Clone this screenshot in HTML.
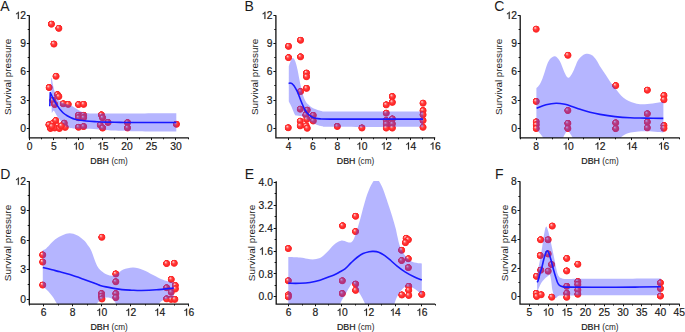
<!DOCTYPE html><html><head><meta charset="utf-8"><style>html,body{margin:0;padding:0;background:#fff;}svg{display:block;}text{font-family:"Liberation Sans",sans-serif;fill:#1a1a1a;}.tl{stroke:#1a1a1a;stroke-width:0.18px;}</style></head><body>
<svg width="685" height="332" viewBox="0 0 685 332">
<defs><radialGradient id="sp" cx="0.5" cy="0.5" r="0.5" fx="0.34" fy="0.3"><stop offset="0" stop-color="#ffe4e4"/><stop offset="0.16" stop-color="#ffa0a0"/><stop offset="0.38" stop-color="#ff4444"/><stop offset="0.72" stop-color="#ff2424"/><stop offset="0.84" stop-color="#fa2626" stop-opacity="0.95"/><stop offset="1" stop-color="#fa3030" stop-opacity="0"/></radialGradient>
<clipPath id="c0"><rect x="29.3" y="15.1" width="159.5" height="122.8"/></clipPath>
<clipPath id="c1"><rect x="275.9" y="15.1" width="159.3" height="122.8"/></clipPath>
<clipPath id="c2"><rect x="520.2" y="15.1" width="159.6" height="122.8"/></clipPath>
<clipPath id="c3"><rect x="29.3" y="181.1" width="159.7" height="123"/></clipPath>
<clipPath id="c4"><rect x="276.2" y="181.1" width="159" height="123"/></clipPath>
<clipPath id="c5"><rect x="520" y="181.1" width="159.8" height="123"/></clipPath>
</defs>
<rect width="685" height="332" fill="#fff"/>
<g clip-path="url(#c0)">
<circle cx="51.5" cy="24.2" r="3.9" fill="url(#sp)"/>
<circle cx="58.9" cy="28.4" r="3.9" fill="url(#sp)"/>
<circle cx="54" cy="44.1" r="3.9" fill="url(#sp)"/>
<circle cx="56.1" cy="76.3" r="3.9" fill="url(#sp)"/>
<circle cx="49.2" cy="87.6" r="3.9" fill="url(#sp)"/>
<circle cx="57.5" cy="94.7" r="3.9" fill="url(#sp)"/>
<circle cx="58.9" cy="96.6" r="3.9" fill="url(#sp)"/>
<circle cx="52.9" cy="100.5" r="3.9" fill="url(#sp)"/>
<circle cx="54.8" cy="104.6" r="3.9" fill="url(#sp)"/>
<circle cx="63.3" cy="103.8" r="3.9" fill="url(#sp)"/>
<circle cx="68.3" cy="104.4" r="3.9" fill="url(#sp)"/>
<circle cx="78.6" cy="104.6" r="3.9" fill="url(#sp)"/>
<circle cx="83.7" cy="104.4" r="3.9" fill="url(#sp)"/>
<circle cx="78.6" cy="115.3" r="3.9" fill="url(#sp)"/>
<circle cx="83.7" cy="115.3" r="3.9" fill="url(#sp)"/>
<circle cx="78.6" cy="117.8" r="3.9" fill="url(#sp)"/>
<circle cx="83.7" cy="117.8" r="3.9" fill="url(#sp)"/>
<circle cx="78.6" cy="127.3" r="3.9" fill="url(#sp)"/>
<circle cx="83.7" cy="126.6" r="3.9" fill="url(#sp)"/>
<circle cx="49" cy="124.8" r="3.9" fill="url(#sp)"/>
<circle cx="50.6" cy="128.5" r="3.9" fill="url(#sp)"/>
<circle cx="53.2" cy="123.2" r="3.9" fill="url(#sp)"/>
<circle cx="55.8" cy="120.6" r="3.9" fill="url(#sp)"/>
<circle cx="57.9" cy="125.9" r="3.9" fill="url(#sp)"/>
<circle cx="54.8" cy="128" r="3.9" fill="url(#sp)"/>
<circle cx="59.5" cy="128.5" r="3.9" fill="url(#sp)"/>
<circle cx="64.3" cy="123.2" r="3.9" fill="url(#sp)"/>
<circle cx="65.3" cy="127.4" r="3.9" fill="url(#sp)"/>
<circle cx="61.5" cy="126" r="3.9" fill="url(#sp)"/>
<circle cx="52" cy="126.5" r="3.9" fill="url(#sp)"/>
<circle cx="101.5" cy="114.9" r="3.9" fill="url(#sp)"/>
<circle cx="102.7" cy="117.9" r="3.9" fill="url(#sp)"/>
<circle cx="108.1" cy="122.5" r="3.9" fill="url(#sp)"/>
<circle cx="100.3" cy="125.1" r="3.9" fill="url(#sp)"/>
<circle cx="102.7" cy="128.1" r="3.9" fill="url(#sp)"/>
<circle cx="127.6" cy="122.7" r="3.9" fill="url(#sp)"/>
<circle cx="127.6" cy="128" r="3.9" fill="url(#sp)"/>
<circle cx="176.5" cy="124.3" r="3.9" fill="url(#sp)"/>
<path d="M51.10,79.00 C51.18,78.80 51.43,77.63 51.60,77.80 C51.77,77.97 51.90,78.97 52.10,80.00 C52.30,81.03 52.52,82.58 52.80,84.00 C53.08,85.42 53.40,86.93 53.80,88.50 C54.20,90.07 54.67,91.90 55.20,93.40 C55.73,94.90 56.40,96.33 57.00,97.50 C57.60,98.67 57.88,99.52 58.80,100.40 C59.72,101.28 61.13,102.12 62.50,102.80 C63.87,103.48 65.42,103.97 67.00,104.50 C68.58,105.03 70.50,105.33 72.00,106.00 C73.50,106.67 74.50,107.60 76.00,108.50 C77.50,109.40 79.17,110.62 81.00,111.40 C82.83,112.18 83.83,112.83 87.00,113.20 C90.17,113.57 92.83,113.57 100.00,113.60 C107.17,113.63 117.28,113.47 130.00,113.40 C142.72,113.33 168.58,113.23 176.30,113.20 L176.30,131.60 C169.42,131.53 145.88,131.38 135.00,131.20 C124.12,131.02 116.83,130.77 111.00,130.50 C105.17,130.23 104.00,129.88 100.00,129.60 C96.00,129.32 91.08,129.00 87.00,128.80 C82.92,128.60 78.33,128.55 75.50,128.40 C72.67,128.25 71.57,128.20 70.00,127.90 C68.43,127.60 67.40,127.45 66.10,126.60 C64.80,125.75 63.25,123.95 62.20,122.80 C61.15,121.65 60.72,120.93 59.80,119.70 C58.88,118.47 57.62,116.80 56.70,115.40 C55.78,114.00 54.88,112.05 54.30,111.30 C53.72,110.55 53.38,110.97 53.20,110.90 L51.80,113.00 C51.77,111.83 51.67,108.50 51.60,106.00 C51.53,103.50 51.45,101.00 51.40,98.00 C51.35,95.00 51.35,91.00 51.30,88.00 C51.25,85.00 51.13,81.33 51.10,80.00 Z" fill="#3c3cff" fill-opacity="0.38"/>
<path d="M49.80,106.20 C49.88,103.92 50.22,94.78 50.30,92.50 L50.30,92.50 C50.70,93.35 51.82,95.88 52.70,97.60 C53.58,99.32 54.72,101.30 55.60,102.80 C56.48,104.30 57.18,105.40 58.00,106.60 C58.82,107.80 59.62,108.93 60.50,110.00 C61.38,111.07 62.18,112.05 63.30,113.00 C64.42,113.95 65.92,114.92 67.20,115.70 C68.48,116.48 69.72,117.12 71.00,117.70 C72.28,118.28 73.40,118.77 74.90,119.20 C76.40,119.63 78.15,120.00 80.00,120.30 C81.85,120.60 83.50,120.78 86.00,121.00 C88.50,121.22 91.83,121.42 95.00,121.60 C98.17,121.78 100.83,121.97 105.00,122.10 C109.17,122.23 115.00,122.33 120.00,122.40 C125.00,122.47 125.62,122.48 135.00,122.50 C144.38,122.52 169.42,122.50 176.30,122.50" fill="none" stroke="#1818ff" stroke-width="1.6" stroke-linejoin="round"/>
</g>
<path d="M29.3,15.3 V137.9 H188.8" fill="none" stroke="#111" stroke-width="1.3"/>
<path d="M29.5,137.9 v2.2 M53.5,137.9 v2.2 M78.5,137.9 v2.2 M102.5,137.9 v2.2 M127.5,137.9 v2.2 M151.5,137.9 v2.2 M175.5,137.9 v2.2 M41.5,137.9 v1.4 M66.5,137.9 v1.4 M90.5,137.9 v1.4 M114.5,137.9 v1.4 M139.5,137.9 v1.4 M163.5,137.9 v1.4 M188.5,137.9 v1.4 M29.3,128.5 h-2.5 M29.3,100.5 h-2.5 M29.3,71.5 h-2.5 M29.3,43.5 h-2.5 M29.3,15.5 h-2.5 M29.3,114.5 h-1.6 M29.3,85.5 h-1.6 M29.3,57.5 h-1.6 M29.3,29.5 h-1.6" stroke="#111" stroke-width="1.0" fill="none"/>
<text x="26.64" y="149.5" font-size="10.3" class="tl">0</text>
<text x="51.04" y="149.5" font-size="10.3" class="tl">5</text>
<path transform="translate(72.57,149.5) scale(0.005029,-0.005029)" d="M843 0H663V1130Q598 1068 492 1006Q387 945 303 916V1086Q454 1156 567 1256Q680 1356 727 1450H843Z" fill="#1a1a1a" stroke="#1a1a1a" stroke-width="35.8"/><text x="78.3" y="149.5" font-size="10.3" class="tl">0</text>
<path transform="translate(96.97,149.5) scale(0.005029,-0.005029)" d="M843 0H663V1130Q598 1068 492 1006Q387 945 303 916V1086Q454 1156 567 1256Q680 1356 727 1450H843Z" fill="#1a1a1a" stroke="#1a1a1a" stroke-width="35.8"/><text x="102.7" y="149.5" font-size="10.3" class="tl">5</text>
<text x="121.37" y="149.5" font-size="10.3" class="tl">20</text>
<text x="145.77" y="149.5" font-size="10.3" class="tl">25</text>
<text x="170.17" y="149.5" font-size="10.3" class="tl">30</text>
<text x="20.27" y="131.9" font-size="10.3" class="tl">0</text>
<text x="20.27" y="103.67" font-size="10.3" class="tl">3</text>
<text x="20.27" y="75.44" font-size="10.3" class="tl">6</text>
<text x="20.27" y="47.21" font-size="10.3" class="tl">9</text>
<path transform="translate(14.54,18.98) scale(0.005029,-0.005029)" d="M843 0H663V1130Q598 1068 492 1006Q387 945 303 916V1086Q454 1156 567 1256Q680 1356 727 1450H843Z" fill="#1a1a1a" stroke="#1a1a1a" stroke-width="35.8"/><text x="20.27" y="18.98" font-size="10.3" class="tl">2</text>
<text x="109.05" y="163.7" font-size="8.8" text-anchor="middle"><tspan stroke="#1a1a1a" stroke-width="0.22">DBH</tspan> <tspan font-size="8.2">(cm)</tspan></text>
<text transform="translate(11.3,76.9) rotate(-90)" font-size="9.9" text-anchor="middle">Survival pressure</text>
<text x="0.3" y="10.8" font-size="14">A</text>
<g clip-path="url(#c1)">
<circle cx="288.6" cy="46.4" r="3.9" fill="url(#sp)"/>
<circle cx="300.6" cy="40.3" r="3.9" fill="url(#sp)"/>
<circle cx="288.6" cy="57.7" r="3.9" fill="url(#sp)"/>
<circle cx="300.6" cy="56.9" r="3.9" fill="url(#sp)"/>
<circle cx="306.6" cy="73.1" r="3.9" fill="url(#sp)"/>
<circle cx="306.6" cy="76.8" r="3.9" fill="url(#sp)"/>
<circle cx="306.6" cy="88.4" r="3.9" fill="url(#sp)"/>
<circle cx="300.6" cy="91.6" r="3.9" fill="url(#sp)"/>
<circle cx="300.3" cy="109.2" r="3.9" fill="url(#sp)"/>
<circle cx="307.3" cy="110.2" r="3.9" fill="url(#sp)"/>
<circle cx="305.9" cy="115.1" r="3.9" fill="url(#sp)"/>
<circle cx="313.3" cy="115.4" r="3.9" fill="url(#sp)"/>
<circle cx="313.3" cy="121" r="3.9" fill="url(#sp)"/>
<circle cx="307" cy="119.4" r="3.9" fill="url(#sp)"/>
<circle cx="300.3" cy="121.2" r="3.9" fill="url(#sp)"/>
<circle cx="300.3" cy="125.9" r="3.9" fill="url(#sp)"/>
<circle cx="306.2" cy="125.9" r="3.9" fill="url(#sp)"/>
<circle cx="307.3" cy="128.3" r="3.9" fill="url(#sp)"/>
<circle cx="288.3" cy="127.8" r="3.9" fill="url(#sp)"/>
<circle cx="337.4" cy="126.5" r="3.9" fill="url(#sp)"/>
<circle cx="362" cy="128" r="3.9" fill="url(#sp)"/>
<circle cx="386.3" cy="104.9" r="3.9" fill="url(#sp)"/>
<circle cx="386.3" cy="113.2" r="3.9" fill="url(#sp)"/>
<circle cx="386.3" cy="120.6" r="3.9" fill="url(#sp)"/>
<circle cx="386.3" cy="124" r="3.9" fill="url(#sp)"/>
<circle cx="386.3" cy="128.1" r="3.9" fill="url(#sp)"/>
<circle cx="392.4" cy="96.6" r="3.9" fill="url(#sp)"/>
<circle cx="392.4" cy="102.4" r="3.9" fill="url(#sp)"/>
<circle cx="392.4" cy="119" r="3.9" fill="url(#sp)"/>
<circle cx="392.4" cy="124" r="3.9" fill="url(#sp)"/>
<circle cx="392.4" cy="128.1" r="3.9" fill="url(#sp)"/>
<circle cx="423.1" cy="103.2" r="3.9" fill="url(#sp)"/>
<circle cx="423.1" cy="110.7" r="3.9" fill="url(#sp)"/>
<circle cx="423.1" cy="114.8" r="3.9" fill="url(#sp)"/>
<circle cx="423.1" cy="120.6" r="3.9" fill="url(#sp)"/>
<circle cx="423.1" cy="127.3" r="3.9" fill="url(#sp)"/>
<path d="M288.80,66.30 C289.08,65.50 289.80,62.88 290.50,61.50 C291.20,60.12 292.17,57.92 293.00,58.00 C293.83,58.08 294.73,60.00 295.50,62.00 C296.27,64.00 297.02,67.42 297.60,70.00 C298.18,72.58 298.55,75.17 299.00,77.50 C299.45,79.83 299.83,81.83 300.30,84.00 C300.77,86.17 301.30,88.50 301.80,90.50 C302.30,92.50 302.65,94.17 303.30,96.00 C303.95,97.83 304.87,100.07 305.70,101.50 C306.53,102.93 307.40,103.70 308.30,104.60 C309.20,105.50 309.73,106.07 311.10,106.90 C312.47,107.73 314.85,108.93 316.50,109.60 C318.15,110.27 318.75,110.58 321.00,110.90 C323.25,111.22 320.17,111.40 330.00,111.50 C339.83,111.60 364.48,111.50 380.00,111.50 C395.52,111.50 415.92,111.50 423.10,111.50 L423.10,126.80 C415.92,126.82 395.52,126.90 380.00,126.90 C364.48,126.90 339.83,126.97 330.00,126.80 C320.17,126.63 323.33,126.30 321.00,125.90 C318.67,125.50 317.65,125.03 316.00,124.40 C314.35,123.77 313.18,123.35 311.10,122.10 C309.02,120.85 305.85,117.98 303.50,116.90 C301.15,115.82 298.45,116.00 297.00,115.60 C295.55,115.20 295.70,115.95 294.80,114.50 C293.90,113.05 292.60,109.07 291.60,106.90 C290.60,104.73 289.27,102.40 288.80,101.50 Z" fill="#3c3cff" fill-opacity="0.38"/>
<path d="M288.60,83.50 C288.83,83.42 289.43,82.98 290.00,83.00 C290.57,83.02 291.33,83.13 292.00,83.60 C292.67,84.07 293.40,85.00 294.00,85.80 C294.60,86.60 295.08,87.50 295.60,88.40 C296.12,89.30 296.60,90.15 297.10,91.20 C297.60,92.25 297.98,93.15 298.60,94.70 C299.22,96.25 300.07,98.65 300.80,100.50 C301.53,102.35 302.30,104.22 303.00,105.80 C303.70,107.38 304.28,108.75 305.00,110.00 C305.72,111.25 306.48,112.37 307.30,113.30 C308.12,114.23 309.03,114.95 309.90,115.60 C310.77,116.25 311.57,116.75 312.50,117.20 C313.43,117.65 314.25,118.02 315.50,118.30 C316.75,118.58 317.58,118.77 320.00,118.90 C322.42,119.03 320.00,119.07 330.00,119.10 C340.00,119.13 364.48,119.10 380.00,119.10 C395.52,119.10 415.92,119.10 423.10,119.10" fill="none" stroke="#1818ff" stroke-width="1.6" stroke-linejoin="round"/>
</g>
<path d="M275.9,15.3 V137.9 H435.2" fill="none" stroke="#111" stroke-width="1.3"/>
<path d="M288.5,137.9 v2.2 M312.5,137.9 v2.2 M337.5,137.9 v2.2 M361.5,137.9 v2.2 M386.5,137.9 v2.2 M410.5,137.9 v2.2 M434.5,137.9 v2.2 M300.5,137.9 v1.4 M325.5,137.9 v1.4 M349.5,137.9 v1.4 M373.5,137.9 v1.4 M398.5,137.9 v1.4 M422.5,137.9 v1.4 M275.9,128.5 h-2.5 M275.9,100.5 h-2.5 M275.9,71.5 h-2.5 M275.9,43.5 h-2.5 M275.9,15.5 h-2.5 M275.9,114.5 h-1.6 M275.9,85.5 h-1.6 M275.9,57.5 h-1.6 M275.9,29.5 h-1.6" stroke="#111" stroke-width="1.0" fill="none"/>
<text x="285.64" y="149.5" font-size="10.3" class="tl">4</text>
<text x="310.04" y="149.5" font-size="10.3" class="tl">6</text>
<text x="334.44" y="149.5" font-size="10.3" class="tl">8</text>
<path transform="translate(355.97,149.5) scale(0.005029,-0.005029)" d="M843 0H663V1130Q598 1068 492 1006Q387 945 303 916V1086Q454 1156 567 1256Q680 1356 727 1450H843Z" fill="#1a1a1a" stroke="#1a1a1a" stroke-width="35.8"/><text x="361.7" y="149.5" font-size="10.3" class="tl">0</text>
<path transform="translate(380.37,149.5) scale(0.005029,-0.005029)" d="M843 0H663V1130Q598 1068 492 1006Q387 945 303 916V1086Q454 1156 567 1256Q680 1356 727 1450H843Z" fill="#1a1a1a" stroke="#1a1a1a" stroke-width="35.8"/><text x="386.1" y="149.5" font-size="10.3" class="tl">2</text>
<path transform="translate(404.77,149.5) scale(0.005029,-0.005029)" d="M843 0H663V1130Q598 1068 492 1006Q387 945 303 916V1086Q454 1156 567 1256Q680 1356 727 1450H843Z" fill="#1a1a1a" stroke="#1a1a1a" stroke-width="35.8"/><text x="410.5" y="149.5" font-size="10.3" class="tl">4</text>
<path transform="translate(429.17,149.5) scale(0.005029,-0.005029)" d="M843 0H663V1130Q598 1068 492 1006Q387 945 303 916V1086Q454 1156 567 1256Q680 1356 727 1450H843Z" fill="#1a1a1a" stroke="#1a1a1a" stroke-width="35.8"/><text x="434.9" y="149.5" font-size="10.3" class="tl">6</text>
<text x="266.87" y="131.9" font-size="10.3" class="tl">0</text>
<text x="266.87" y="103.67" font-size="10.3" class="tl">3</text>
<text x="266.87" y="75.44" font-size="10.3" class="tl">6</text>
<text x="266.87" y="47.21" font-size="10.3" class="tl">9</text>
<path transform="translate(261.14,18.98) scale(0.005029,-0.005029)" d="M843 0H663V1130Q598 1068 492 1006Q387 945 303 916V1086Q454 1156 567 1256Q680 1356 727 1450H843Z" fill="#1a1a1a" stroke="#1a1a1a" stroke-width="35.8"/><text x="266.87" y="18.98" font-size="10.3" class="tl">2</text>
<text x="355.55" y="163.7" font-size="8.8" text-anchor="middle"><tspan stroke="#1a1a1a" stroke-width="0.22">DBH</tspan> <tspan font-size="8.2">(cm)</tspan></text>
<text transform="translate(257.9,76.9) rotate(-90)" font-size="9.9" text-anchor="middle">Survival pressure</text>
<text x="244.6" y="10.8" font-size="14">B</text>
<g clip-path="url(#c2)">
<circle cx="536.2" cy="29.2" r="3.9" fill="url(#sp)"/>
<circle cx="568" cy="55.3" r="3.9" fill="url(#sp)"/>
<circle cx="615.8" cy="85.7" r="3.9" fill="url(#sp)"/>
<circle cx="647.4" cy="90.2" r="3.9" fill="url(#sp)"/>
<circle cx="664" cy="95.6" r="3.9" fill="url(#sp)"/>
<circle cx="664" cy="99.8" r="3.9" fill="url(#sp)"/>
<circle cx="536.3" cy="101.5" r="3.9" fill="url(#sp)"/>
<circle cx="536.3" cy="121.9" r="3.9" fill="url(#sp)"/>
<circle cx="536.3" cy="124.9" r="3.9" fill="url(#sp)"/>
<circle cx="536.3" cy="128.6" r="3.9" fill="url(#sp)"/>
<circle cx="567.9" cy="110.6" r="3.9" fill="url(#sp)"/>
<circle cx="567.9" cy="123.4" r="3.9" fill="url(#sp)"/>
<circle cx="567.9" cy="128.6" r="3.9" fill="url(#sp)"/>
<circle cx="615.8" cy="122.9" r="3.9" fill="url(#sp)"/>
<circle cx="615.8" cy="128.7" r="3.9" fill="url(#sp)"/>
<circle cx="647.4" cy="113.8" r="3.9" fill="url(#sp)"/>
<circle cx="647.4" cy="122.1" r="3.9" fill="url(#sp)"/>
<circle cx="647.4" cy="127.9" r="3.9" fill="url(#sp)"/>
<circle cx="664" cy="125.6" r="3.9" fill="url(#sp)"/>
<circle cx="664" cy="128.3" r="3.9" fill="url(#sp)"/>
<path d="M536.40,88.20 C536.75,87.83 537.82,86.87 538.50,86.00 C539.18,85.13 539.83,84.25 540.50,83.00 C541.17,81.75 541.75,80.50 542.50,78.50 C543.25,76.50 544.17,73.50 545.00,71.00 C545.83,68.50 546.58,65.58 547.50,63.50 C548.42,61.42 549.28,59.70 550.50,58.50 C551.72,57.30 553.45,56.17 554.80,56.30 C556.15,56.43 557.57,58.10 558.60,59.30 C559.63,60.50 560.25,61.87 561.00,63.50 C561.75,65.13 562.27,67.10 563.10,69.10 C563.93,71.10 565.12,74.05 566.00,75.50 C566.88,76.95 567.65,77.72 568.40,77.80 C569.15,77.88 569.75,76.95 570.50,76.00 C571.25,75.05 572.07,73.77 572.90,72.10 C573.73,70.43 574.62,68.00 575.50,66.00 C576.38,64.00 576.87,61.97 578.20,60.10 C579.53,58.23 582.00,55.87 583.50,54.80 C585.00,53.73 586.03,53.75 587.20,53.70 C588.37,53.65 589.48,54.07 590.50,54.50 C591.52,54.93 592.22,55.22 593.30,56.30 C594.38,57.38 595.75,59.12 597.00,61.00 C598.25,62.88 599.38,65.35 600.80,67.60 C602.22,69.85 603.97,72.18 605.50,74.50 C607.03,76.82 608.50,79.37 610.00,81.50 C611.50,83.63 612.98,85.33 614.50,87.30 C616.02,89.27 617.60,91.55 619.10,93.30 C620.60,95.05 621.90,96.50 623.50,97.80 C625.10,99.10 626.78,100.18 628.70,101.10 C630.62,102.02 632.75,102.77 635.00,103.30 C637.25,103.83 639.25,104.27 642.20,104.30 C645.15,104.33 649.17,103.92 652.70,103.50 C656.23,103.08 661.62,102.08 663.40,101.80 L663.40,132.40 C660.37,132.20 650.00,131.28 645.20,131.20 C640.40,131.12 637.62,131.53 634.60,131.90 C631.58,132.27 629.35,132.52 627.10,133.40 C624.85,134.28 622.37,135.93 621.10,137.20 C619.83,138.47 619.77,140.37 619.50,141.00 L574.00,141.00 C573.73,140.37 573.07,138.45 572.40,137.20 C571.73,135.95 570.75,134.52 570.00,133.50 C569.25,132.48 568.65,131.18 567.90,131.10 C567.15,131.02 566.25,131.98 565.50,133.00 C564.75,134.02 564.07,135.87 563.40,137.20 C562.73,138.53 561.82,140.37 561.50,141.00 L545.00,141.00 C544.80,140.58 544.63,139.75 543.80,138.50 C542.97,137.25 541.23,134.98 540.00,133.50 C538.77,132.02 537.00,130.25 536.40,129.60 Z" fill="#3c3cff" fill-opacity="0.38"/>
<path d="M536.60,108.30 C538.17,107.72 542.75,105.65 546.00,104.80 C549.25,103.95 552.93,103.28 556.10,103.20 C559.27,103.12 562.35,103.75 565.00,104.30 C567.65,104.85 569.47,105.67 572.00,106.50 C574.53,107.33 577.20,108.33 580.20,109.30 C583.20,110.27 586.70,111.45 590.00,112.30 C593.30,113.15 595.82,113.68 600.00,114.40 C604.18,115.12 610.08,116.03 615.10,116.60 C620.12,117.17 625.08,117.55 630.10,117.80 C635.12,118.05 639.67,118.00 645.20,118.10 C650.73,118.20 660.28,118.35 663.30,118.40" fill="none" stroke="#1818ff" stroke-width="1.6" stroke-linejoin="round"/>
</g>
<path d="M520.2,15.3 V137.9 H679.8" fill="none" stroke="#111" stroke-width="1.3"/>
<path d="M536.5,137.9 v2.2 M568.5,137.9 v2.2 M599.5,137.9 v2.2 M631.5,137.9 v2.2 M663.5,137.9 v2.2 M520.5,137.9 v1.4 M552.5,137.9 v1.4 M583.5,137.9 v1.4 M615.5,137.9 v1.4 M647.5,137.9 v1.4 M679.5,137.9 v1.4 M520.2,128.5 h-2.5 M520.2,100.5 h-2.5 M520.2,71.5 h-2.5 M520.2,43.5 h-2.5 M520.2,15.5 h-2.5 M520.2,114.5 h-1.6 M520.2,85.5 h-1.6 M520.2,57.5 h-1.6 M520.2,29.5 h-1.6" stroke="#111" stroke-width="1.0" fill="none"/>
<text x="533.34" y="149.5" font-size="10.3" class="tl">8</text>
<path transform="translate(562.27,149.5) scale(0.005029,-0.005029)" d="M843 0H663V1130Q598 1068 492 1006Q387 945 303 916V1086Q454 1156 567 1256Q680 1356 727 1450H843Z" fill="#1a1a1a" stroke="#1a1a1a" stroke-width="35.8"/><text x="568" y="149.5" font-size="10.3" class="tl">0</text>
<path transform="translate(594.07,149.5) scale(0.005029,-0.005029)" d="M843 0H663V1130Q598 1068 492 1006Q387 945 303 916V1086Q454 1156 567 1256Q680 1356 727 1450H843Z" fill="#1a1a1a" stroke="#1a1a1a" stroke-width="35.8"/><text x="599.8" y="149.5" font-size="10.3" class="tl">2</text>
<path transform="translate(625.87,149.5) scale(0.005029,-0.005029)" d="M843 0H663V1130Q598 1068 492 1006Q387 945 303 916V1086Q454 1156 567 1256Q680 1356 727 1450H843Z" fill="#1a1a1a" stroke="#1a1a1a" stroke-width="35.8"/><text x="631.6" y="149.5" font-size="10.3" class="tl">4</text>
<path transform="translate(657.67,149.5) scale(0.005029,-0.005029)" d="M843 0H663V1130Q598 1068 492 1006Q387 945 303 916V1086Q454 1156 567 1256Q680 1356 727 1450H843Z" fill="#1a1a1a" stroke="#1a1a1a" stroke-width="35.8"/><text x="663.4" y="149.5" font-size="10.3" class="tl">6</text>
<text x="511.17" y="131.9" font-size="10.3" class="tl">0</text>
<text x="511.17" y="103.67" font-size="10.3" class="tl">3</text>
<text x="511.17" y="75.44" font-size="10.3" class="tl">6</text>
<text x="511.17" y="47.21" font-size="10.3" class="tl">9</text>
<path transform="translate(505.44,18.98) scale(0.005029,-0.005029)" d="M843 0H663V1130Q598 1068 492 1006Q387 945 303 916V1086Q454 1156 567 1256Q680 1356 727 1450H843Z" fill="#1a1a1a" stroke="#1a1a1a" stroke-width="35.8"/><text x="511.17" y="18.98" font-size="10.3" class="tl">2</text>
<text x="600" y="163.7" font-size="8.8" text-anchor="middle"><tspan stroke="#1a1a1a" stroke-width="0.22">DBH</tspan> <tspan font-size="8.2">(cm)</tspan></text>
<text transform="translate(502.2,76.9) rotate(-90)" font-size="9.9" text-anchor="middle">Survival pressure</text>
<text x="494.3" y="10.8" font-size="14">C</text>
<g clip-path="url(#c3)">
<circle cx="42.8" cy="255" r="3.9" fill="url(#sp)"/>
<circle cx="42.8" cy="262.1" r="3.9" fill="url(#sp)"/>
<circle cx="42.8" cy="285.1" r="3.9" fill="url(#sp)"/>
<circle cx="101.9" cy="237.3" r="3.9" fill="url(#sp)"/>
<circle cx="101.6" cy="293.6" r="3.9" fill="url(#sp)"/>
<circle cx="101.6" cy="296.4" r="3.9" fill="url(#sp)"/>
<circle cx="102" cy="299" r="3.9" fill="url(#sp)"/>
<circle cx="115.9" cy="274" r="3.9" fill="url(#sp)"/>
<circle cx="115.9" cy="281.8" r="3.9" fill="url(#sp)"/>
<circle cx="115.9" cy="293.7" r="3.9" fill="url(#sp)"/>
<circle cx="115.9" cy="297.7" r="3.9" fill="url(#sp)"/>
<circle cx="166.7" cy="263.6" r="3.9" fill="url(#sp)"/>
<circle cx="174.3" cy="263.3" r="3.9" fill="url(#sp)"/>
<circle cx="171.3" cy="279.5" r="3.9" fill="url(#sp)"/>
<circle cx="166.7" cy="287.8" r="3.9" fill="url(#sp)"/>
<circle cx="171.3" cy="292.3" r="3.9" fill="url(#sp)"/>
<circle cx="175.4" cy="285.6" r="3.9" fill="url(#sp)"/>
<circle cx="175.4" cy="289" r="3.9" fill="url(#sp)"/>
<circle cx="166.7" cy="298.9" r="3.9" fill="url(#sp)"/>
<circle cx="171.3" cy="299.4" r="3.9" fill="url(#sp)"/>
<circle cx="174.9" cy="299.4" r="3.9" fill="url(#sp)"/>
<path d="M42.80,250.10 C43.27,249.90 44.52,249.70 45.60,248.90 C46.68,248.10 47.68,246.90 49.30,245.30 C50.92,243.70 53.10,240.98 55.30,239.30 C57.50,237.62 60.10,236.22 62.50,235.20 C64.90,234.18 67.28,233.20 69.70,233.20 C72.12,233.20 74.58,233.98 77.00,235.20 C79.42,236.42 82.37,238.78 84.20,240.50 C86.03,242.22 86.80,243.75 88.00,245.50 C89.20,247.25 89.87,247.58 91.40,251.00 C92.93,254.42 95.32,262.50 97.20,266.00 C99.08,269.50 100.98,270.53 102.70,272.00 C104.42,273.47 105.90,274.17 107.50,274.80 C109.10,275.43 110.70,275.97 112.30,275.80 C113.90,275.63 115.27,274.85 117.10,273.80 C118.93,272.75 120.62,270.57 123.30,269.50 C125.98,268.43 129.90,267.33 133.20,267.40 C136.50,267.47 139.78,268.65 143.10,269.90 C146.42,271.15 149.78,273.25 153.10,274.90 C156.42,276.55 160.43,278.70 163.00,279.80 C165.57,280.90 166.70,281.08 168.50,281.50 C170.30,281.92 172.92,282.17 173.80,282.30 L173.80,297.80 C172.83,297.92 169.62,298.22 168.00,298.50 C166.38,298.78 165.35,298.92 164.10,299.50 C162.85,300.08 161.37,301.25 160.50,302.00 C159.63,302.75 159.32,303.33 158.90,304.00 C158.48,304.67 158.15,305.67 158.00,306.00 L116.50,306.00 C116.35,305.50 116.27,304.13 115.60,303.00 C114.93,301.87 113.52,300.07 112.50,299.20 C111.48,298.33 110.43,298.08 109.50,297.80 C108.57,297.52 107.82,297.47 106.90,297.50 C105.98,297.53 105.07,297.58 104.00,298.00 C102.93,298.42 101.60,299.17 100.50,300.00 C99.40,300.83 98.07,302.00 97.40,303.00 C96.73,304.00 96.65,305.50 96.50,306.00 L58.50,306.00 C58.17,305.52 57.43,304.58 56.50,303.10 C55.57,301.62 54.32,299.10 52.90,297.10 C51.48,295.10 49.68,292.92 48.00,291.10 C46.32,289.28 43.67,287.02 42.80,286.20 Z" fill="#3c3cff" fill-opacity="0.38"/>
<path d="M42.80,267.40 C44.33,267.80 49.12,269.07 52.00,269.80 C54.88,270.53 57.10,271.00 60.10,271.80 C63.10,272.60 65.98,273.32 70.00,274.60 C74.02,275.88 79.87,277.97 84.20,279.50 C88.53,281.03 93.33,282.82 96.00,283.80 C98.67,284.78 98.53,284.88 100.20,285.40 C101.87,285.92 103.98,286.45 106.00,286.90 C108.02,287.35 109.63,287.65 112.30,288.10 C114.97,288.55 118.78,289.25 122.00,289.60 C125.22,289.95 128.35,290.05 131.60,290.20 C134.85,290.35 137.37,290.57 141.50,290.50 C145.63,290.43 151.02,290.22 156.40,289.80 C161.78,289.38 170.90,288.30 173.80,288.00" fill="none" stroke="#1818ff" stroke-width="1.6" stroke-linejoin="round"/>
</g>
<path d="M29.3,181.3 V304.1 H189" fill="none" stroke="#111" stroke-width="1.3"/>
<path d="M43.5,304.1 v2.2 M72.5,304.1 v2.2 M101.5,304.1 v2.2 M130.5,304.1 v2.2 M159.5,304.1 v2.2 M188.5,304.1 v2.2 M29.5,304.1 v1.4 M58.5,304.1 v1.4 M87.5,304.1 v1.4 M116.5,304.1 v1.4 M145.5,304.1 v1.4 M174.5,304.1 v1.4 M29.3,299.5 h-2.5 M29.3,269.5 h-2.5 M29.3,240.5 h-2.5 M29.3,210.5 h-2.5 M29.3,181.5 h-2.5 M29.3,284.5 h-1.6 M29.3,255.5 h-1.6 M29.3,225.5 h-1.6 M29.3,195.5 h-1.6" stroke="#111" stroke-width="1.0" fill="none"/>
<text x="40.74" y="315.7" font-size="10.3" class="tl">6</text>
<text x="69.74" y="315.7" font-size="10.3" class="tl">8</text>
<path transform="translate(95.87,315.7) scale(0.005029,-0.005029)" d="M843 0H663V1130Q598 1068 492 1006Q387 945 303 916V1086Q454 1156 567 1256Q680 1356 727 1450H843Z" fill="#1a1a1a" stroke="#1a1a1a" stroke-width="35.8"/><text x="101.6" y="315.7" font-size="10.3" class="tl">0</text>
<path transform="translate(124.87,315.7) scale(0.005029,-0.005029)" d="M843 0H663V1130Q598 1068 492 1006Q387 945 303 916V1086Q454 1156 567 1256Q680 1356 727 1450H843Z" fill="#1a1a1a" stroke="#1a1a1a" stroke-width="35.8"/><text x="130.6" y="315.7" font-size="10.3" class="tl">2</text>
<path transform="translate(153.87,315.7) scale(0.005029,-0.005029)" d="M843 0H663V1130Q598 1068 492 1006Q387 945 303 916V1086Q454 1156 567 1256Q680 1356 727 1450H843Z" fill="#1a1a1a" stroke="#1a1a1a" stroke-width="35.8"/><text x="159.6" y="315.7" font-size="10.3" class="tl">4</text>
<path transform="translate(182.87,315.7) scale(0.005029,-0.005029)" d="M843 0H663V1130Q598 1068 492 1006Q387 945 303 916V1086Q454 1156 567 1256Q680 1356 727 1450H843Z" fill="#1a1a1a" stroke="#1a1a1a" stroke-width="35.8"/><text x="188.6" y="315.7" font-size="10.3" class="tl">6</text>
<text x="20.27" y="303" font-size="10.3" class="tl">0</text>
<text x="20.27" y="273.45" font-size="10.3" class="tl">3</text>
<text x="20.27" y="243.9" font-size="10.3" class="tl">6</text>
<text x="20.27" y="214.35" font-size="10.3" class="tl">9</text>
<path transform="translate(14.54,184.8) scale(0.005029,-0.005029)" d="M843 0H663V1130Q598 1068 492 1006Q387 945 303 916V1086Q454 1156 567 1256Q680 1356 727 1450H843Z" fill="#1a1a1a" stroke="#1a1a1a" stroke-width="35.8"/><text x="20.27" y="184.8" font-size="10.3" class="tl">2</text>
<text x="109.15" y="330" font-size="8.8" text-anchor="middle"><tspan stroke="#1a1a1a" stroke-width="0.22">DBH</tspan> <tspan font-size="8.2">(cm)</tspan></text>
<text transform="translate(11.3,243) rotate(-90)" font-size="9.9" text-anchor="middle">Survival pressure</text>
<text x="0.3" y="179.4" font-size="14">D</text>
<g clip-path="url(#c4)">
<circle cx="288.4" cy="248.6" r="3.9" fill="url(#sp)"/>
<circle cx="288.4" cy="280.8" r="3.9" fill="url(#sp)"/>
<circle cx="288.4" cy="295" r="3.9" fill="url(#sp)"/>
<circle cx="288.4" cy="296.9" r="3.9" fill="url(#sp)"/>
<circle cx="342.6" cy="225.8" r="3.9" fill="url(#sp)"/>
<circle cx="355.7" cy="216.3" r="3.9" fill="url(#sp)"/>
<circle cx="355.6" cy="231.6" r="3.9" fill="url(#sp)"/>
<circle cx="342.4" cy="280.8" r="3.9" fill="url(#sp)"/>
<circle cx="342.4" cy="293.6" r="3.9" fill="url(#sp)"/>
<circle cx="355.7" cy="284.1" r="3.9" fill="url(#sp)"/>
<circle cx="355.7" cy="290.4" r="3.9" fill="url(#sp)"/>
<circle cx="406.2" cy="238.3" r="3.9" fill="url(#sp)"/>
<circle cx="408.4" cy="239.8" r="3.9" fill="url(#sp)"/>
<circle cx="405.5" cy="242.7" r="3.9" fill="url(#sp)"/>
<circle cx="401.7" cy="250.3" r="3.9" fill="url(#sp)"/>
<circle cx="401.7" cy="260.6" r="3.9" fill="url(#sp)"/>
<circle cx="408.4" cy="258.8" r="3.9" fill="url(#sp)"/>
<circle cx="408.4" cy="267.7" r="3.9" fill="url(#sp)"/>
<circle cx="408.8" cy="286.4" r="3.9" fill="url(#sp)"/>
<circle cx="408.8" cy="290.4" r="3.9" fill="url(#sp)"/>
<circle cx="408.8" cy="295.5" r="3.9" fill="url(#sp)"/>
<circle cx="401.9" cy="295" r="3.9" fill="url(#sp)"/>
<circle cx="421.9" cy="294.5" r="3.9" fill="url(#sp)"/>
<path d="M288.30,257.00 C290.25,257.08 296.85,257.22 300.00,257.50 C303.15,257.78 304.78,258.40 307.20,258.70 C309.62,259.00 312.08,259.60 314.50,259.30 C316.92,259.00 319.50,258.20 321.70,256.90 C323.90,255.60 325.70,253.50 327.70,251.50 C329.70,249.50 331.48,246.70 333.70,244.90 C335.92,243.10 338.78,241.20 341.00,240.70 C343.22,240.20 345.40,241.60 347.00,241.90 C348.60,242.20 349.50,242.90 350.60,242.50 C351.70,242.10 352.60,241.42 353.60,239.50 C354.60,237.58 355.53,234.25 356.60,231.00 C357.67,227.75 358.93,223.75 360.00,220.00 C361.07,216.25 362.17,211.58 363.00,208.50 C363.83,205.42 364.37,203.67 365.00,201.50 C365.63,199.33 366.20,197.30 366.80,195.50 C367.40,193.70 368.00,192.20 368.60,190.70 C369.20,189.20 369.80,187.75 370.40,186.50 C371.00,185.25 371.60,184.18 372.20,183.20 C372.80,182.22 373.32,181.20 374.00,180.60 C374.68,180.00 375.53,179.60 376.30,179.60 C377.07,179.60 377.77,179.67 378.60,180.60 C379.43,181.53 380.57,183.80 381.30,185.20 C382.03,186.60 382.40,187.48 383.00,189.00 C383.60,190.52 384.28,192.53 384.90,194.30 C385.52,196.07 386.10,197.80 386.70,199.60 C387.30,201.40 387.60,202.37 388.50,205.10 C389.40,207.83 390.90,212.08 392.10,216.00 C393.30,219.92 394.83,225.27 395.70,228.60 C396.57,231.93 396.63,233.17 397.30,236.00 C397.97,238.83 398.82,243.03 399.70,245.60 C400.58,248.17 401.63,249.63 402.60,251.40 C403.57,253.17 404.38,254.75 405.50,256.20 C406.62,257.65 407.85,259.05 409.30,260.10 C410.75,261.15 412.12,261.93 414.20,262.50 C416.28,263.07 420.53,263.33 421.80,263.50 L421.80,294.60 C421.10,294.02 419.20,292.27 417.60,291.10 C416.00,289.93 414.00,288.35 412.20,287.60 C410.40,286.85 408.42,286.37 406.80,286.60 C405.18,286.83 403.77,287.88 402.50,289.00 C401.23,290.12 400.20,291.80 399.20,293.30 C398.20,294.80 397.20,296.55 396.50,298.00 C395.80,299.45 395.42,300.67 395.00,302.00 C394.58,303.33 394.23,304.83 394.00,306.00 C393.77,307.17 393.67,308.50 393.60,309.00 L365.60,309.00 C365.43,307.95 365.58,305.30 364.60,302.70 C363.62,300.10 361.38,296.32 359.70,293.40 C358.02,290.48 355.68,286.83 354.50,285.20 C353.32,283.57 353.27,283.55 352.60,283.60 C351.93,283.65 351.68,283.77 350.50,285.50 C349.32,287.23 347.15,291.13 345.50,294.00 C343.85,296.87 341.62,300.20 340.60,302.70 C339.58,305.20 339.60,307.95 339.40,309.00 L288.30,309.00 Z" fill="#3c3cff" fill-opacity="0.38"/>
<path d="M288.30,283.30 C290.25,283.30 296.38,283.43 300.00,283.30 C303.62,283.17 306.67,283.02 310.00,282.50 C313.33,281.98 316.67,281.20 320.00,280.20 C323.33,279.20 327.50,277.45 330.00,276.50 C332.50,275.55 333.33,275.28 335.00,274.50 C336.67,273.72 338.33,272.73 340.00,271.80 C341.67,270.87 343.17,270.38 345.00,268.90 C346.83,267.42 349.00,264.80 351.00,262.90 C353.00,261.00 354.98,259.07 357.00,257.50 C359.02,255.93 361.08,254.47 363.10,253.50 C365.12,252.53 367.40,252.05 369.10,251.70 C370.80,251.35 371.70,251.30 373.30,251.40 C374.90,251.50 376.78,251.58 378.70,252.30 C380.62,253.02 382.78,254.33 384.80,255.70 C386.82,257.07 388.80,258.80 390.80,260.50 C392.80,262.20 394.43,264.00 396.80,265.90 C399.17,267.80 402.13,270.08 405.00,271.90 C407.87,273.72 411.20,275.45 414.00,276.80 C416.80,278.15 420.50,279.47 421.80,280.00" fill="none" stroke="#1818ff" stroke-width="1.6" stroke-linejoin="round"/>
</g>
<path d="M276.2,181.3 V304.1 H435.2" fill="none" stroke="#111" stroke-width="1.3"/>
<path d="M288.5,304.1 v2.2 M315.5,304.1 v2.2 M341.5,304.1 v2.2 M368.5,304.1 v2.2 M395.5,304.1 v2.2 M421.5,304.1 v2.2 M302.5,304.1 v1.4 M328.5,304.1 v1.4 M355.5,304.1 v1.4 M381.5,304.1 v1.4 M408.5,304.1 v1.4 M435.5,304.1 v1.4 M276.2,296.5 h-2.5 M276.2,273.5 h-2.5 M276.2,251.5 h-2.5 M276.2,228.5 h-2.5 M276.2,205.5 h-2.5 M276.2,182.5 h-2.5 M276.2,285.5 h-1.6 M276.2,262.5 h-1.6 M276.2,239.5 h-1.6 M276.2,216.5 h-1.6 M276.2,193.5 h-1.6" stroke="#111" stroke-width="1.0" fill="none"/>
<text x="285.84" y="315.7" font-size="10.3" class="tl">6</text>
<text x="312.44" y="315.7" font-size="10.3" class="tl">8</text>
<path transform="translate(336.17,315.7) scale(0.005029,-0.005029)" d="M843 0H663V1130Q598 1068 492 1006Q387 945 303 916V1086Q454 1156 567 1256Q680 1356 727 1450H843Z" fill="#1a1a1a" stroke="#1a1a1a" stroke-width="35.8"/><text x="341.9" y="315.7" font-size="10.3" class="tl">0</text>
<path transform="translate(362.77,315.7) scale(0.005029,-0.005029)" d="M843 0H663V1130Q598 1068 492 1006Q387 945 303 916V1086Q454 1156 567 1256Q680 1356 727 1450H843Z" fill="#1a1a1a" stroke="#1a1a1a" stroke-width="35.8"/><text x="368.5" y="315.7" font-size="10.3" class="tl">2</text>
<path transform="translate(389.37,315.7) scale(0.005029,-0.005029)" d="M843 0H663V1130Q598 1068 492 1006Q387 945 303 916V1086Q454 1156 567 1256Q680 1356 727 1450H843Z" fill="#1a1a1a" stroke="#1a1a1a" stroke-width="35.8"/><text x="395.1" y="315.7" font-size="10.3" class="tl">4</text>
<path transform="translate(415.97,315.7) scale(0.005029,-0.005029)" d="M843 0H663V1130Q598 1068 492 1006Q387 945 303 916V1086Q454 1156 567 1256Q680 1356 727 1450H843Z" fill="#1a1a1a" stroke="#1a1a1a" stroke-width="35.8"/><text x="421.7" y="315.7" font-size="10.3" class="tl">6</text>
<text x="258.58" y="300.4" font-size="10.3" class="tl">0.0</text>
<text x="258.58" y="277.52" font-size="10.3" class="tl">0.8</text>
<path transform="translate(258.58,254.64) scale(0.005029,-0.005029)" d="M843 0H663V1130Q598 1068 492 1006Q387 945 303 916V1086Q454 1156 567 1256Q680 1356 727 1450H843Z" fill="#1a1a1a" stroke="#1a1a1a" stroke-width="35.8"/><text x="264.31" y="254.64" font-size="10.3" class="tl">.6</text>
<text x="258.58" y="231.76" font-size="10.3" class="tl">2.4</text>
<text x="258.58" y="208.88" font-size="10.3" class="tl">3.2</text>
<text x="258.58" y="186" font-size="10.3" class="tl">4.0</text>
<text x="355.7" y="330" font-size="8.8" text-anchor="middle"><tspan stroke="#1a1a1a" stroke-width="0.22">DBH</tspan> <tspan font-size="8.2">(cm)</tspan></text>
<text transform="translate(255,243) rotate(-90)" font-size="9.9" text-anchor="middle">Survival pressure</text>
<text x="244.8" y="179.4" font-size="14">E</text>
<g clip-path="url(#c5)">
<circle cx="552.3" cy="226.1" r="3.9" fill="url(#sp)"/>
<circle cx="540.7" cy="239.8" r="3.9" fill="url(#sp)"/>
<circle cx="548.2" cy="239.8" r="3.9" fill="url(#sp)"/>
<circle cx="540.3" cy="255.6" r="3.9" fill="url(#sp)"/>
<circle cx="548.2" cy="254" r="3.9" fill="url(#sp)"/>
<circle cx="551.6" cy="264.6" r="3.9" fill="url(#sp)"/>
<circle cx="540.8" cy="270.2" r="3.9" fill="url(#sp)"/>
<circle cx="548.2" cy="271.2" r="3.9" fill="url(#sp)"/>
<circle cx="536.6" cy="276.4" r="3.9" fill="url(#sp)"/>
<circle cx="566.8" cy="258.5" r="3.9" fill="url(#sp)"/>
<circle cx="566.8" cy="271" r="3.9" fill="url(#sp)"/>
<circle cx="577.9" cy="264.3" r="3.9" fill="url(#sp)"/>
<circle cx="536.3" cy="293.4" r="3.9" fill="url(#sp)"/>
<circle cx="536.8" cy="296.5" r="3.9" fill="url(#sp)"/>
<circle cx="541.2" cy="294.8" r="3.9" fill="url(#sp)"/>
<circle cx="551.9" cy="297.2" r="3.9" fill="url(#sp)"/>
<circle cx="566.8" cy="286.4" r="3.9" fill="url(#sp)"/>
<circle cx="566.8" cy="293.4" r="3.9" fill="url(#sp)"/>
<circle cx="566.8" cy="297.3" r="3.9" fill="url(#sp)"/>
<circle cx="577.9" cy="281.6" r="3.9" fill="url(#sp)"/>
<circle cx="577.9" cy="284.6" r="3.9" fill="url(#sp)"/>
<circle cx="577.9" cy="290.1" r="3.9" fill="url(#sp)"/>
<circle cx="577.9" cy="294.3" r="3.9" fill="url(#sp)"/>
<circle cx="660.5" cy="282.9" r="3.9" fill="url(#sp)"/>
<circle cx="660.5" cy="288.6" r="3.9" fill="url(#sp)"/>
<circle cx="660.5" cy="296.1" r="3.9" fill="url(#sp)"/>
<path d="M537.00,280.00 C537.10,278.67 537.20,274.83 537.60,272.00 C538.00,269.17 538.78,266.22 539.40,263.00 C540.02,259.78 540.67,256.52 541.30,252.70 C541.93,248.88 542.67,243.55 543.20,240.10 C543.73,236.65 544.02,234.27 544.50,232.00 C544.98,229.73 545.52,226.75 546.10,226.50 C546.68,226.25 547.37,228.58 548.00,230.50 C548.63,232.42 549.20,235.00 549.90,238.00 C550.60,241.00 551.48,245.13 552.20,248.50 C552.92,251.87 553.57,255.08 554.20,258.20 C554.83,261.32 555.43,264.60 556.00,267.20 C556.57,269.80 557.02,272.13 557.60,273.80 C558.18,275.47 558.70,276.43 559.50,277.20 C560.30,277.97 561.32,278.12 562.40,278.40 C563.48,278.68 559.73,278.83 566.00,278.90 C572.27,278.97 584.18,278.87 600.00,278.80 C615.82,278.73 650.75,278.55 660.90,278.50 L660.90,295.40 C650.75,295.38 615.82,295.28 600.00,295.30 C584.18,295.32 572.85,295.43 566.00,295.50 C559.15,295.57 560.58,295.27 558.90,295.70 C557.22,296.13 556.70,298.10 555.90,298.10 C555.10,298.10 554.70,297.10 554.10,295.70 C553.50,294.30 552.80,292.32 552.30,289.70 C551.80,287.08 551.50,282.45 551.10,280.00 C550.70,277.55 550.40,275.67 549.90,275.00 C549.40,274.33 549.00,275.35 548.10,276.00 C547.20,276.65 545.72,277.62 544.50,278.90 C543.28,280.18 542.02,281.50 540.80,283.70 C539.58,285.90 537.80,290.70 537.20,292.10 Z" fill="#3c3cff" fill-opacity="0.38"/>
<path d="M537.20,282.30 C537.38,281.90 537.83,281.37 538.30,279.90 C538.77,278.43 539.40,275.62 540.00,273.50 C540.60,271.38 541.23,269.70 541.90,267.20 C542.57,264.70 543.32,260.98 544.00,258.50 C544.68,256.02 545.43,253.57 546.00,252.30 C546.57,251.03 546.90,250.70 547.40,250.90 C547.90,251.10 548.40,251.98 549.00,253.50 C549.60,255.02 550.30,257.50 551.00,260.00 C551.70,262.50 552.45,265.75 553.20,268.50 C553.95,271.25 554.78,274.17 555.50,276.50 C556.22,278.83 556.83,281.02 557.50,282.50 C558.17,283.98 558.53,284.67 559.50,285.40 C560.47,286.13 561.55,286.62 563.30,286.90 C565.05,287.18 563.88,287.05 570.00,287.10 C576.12,287.15 589.17,287.20 600.00,287.20 C610.83,287.20 624.85,287.17 635.00,287.10 C645.15,287.03 656.58,286.85 660.90,286.80" fill="none" stroke="#1818ff" stroke-width="1.6" stroke-linejoin="round"/>
</g>
<path d="M520,181.3 V304.1 H679.8" fill="none" stroke="#111" stroke-width="1.3"/>
<path d="M529.5,304.1 v2.2 M548.5,304.1 v2.2 M566.5,304.1 v2.2 M585.5,304.1 v2.2 M604.5,304.1 v2.2 M623.5,304.1 v2.2 M641.5,304.1 v2.2 M660.5,304.1 v2.2 M679.5,304.1 v2.2 M538.5,304.1 v1.4 M557.5,304.1 v1.4 M576.5,304.1 v1.4 M594.5,304.1 v1.4 M613.5,304.1 v1.4 M632.5,304.1 v1.4 M651.5,304.1 v1.4 M669.5,304.1 v1.4 M520,296.5 h-2.5 M520,268.5 h-2.5 M520,239.5 h-2.5 M520,210.5 h-2.5 M520,181.5 h-2.5 M520,282.5 h-1.6 M520,253.5 h-1.6 M520,224.5 h-1.6 M520,196.5 h-1.6" stroke="#111" stroke-width="1.0" fill="none"/>
<text x="526.44" y="315.7" font-size="10.3" class="tl">5</text>
<path transform="translate(542.32,315.7) scale(0.005029,-0.005029)" d="M843 0H663V1130Q598 1068 492 1006Q387 945 303 916V1086Q454 1156 567 1256Q680 1356 727 1450H843Z" fill="#1a1a1a" stroke="#1a1a1a" stroke-width="35.8"/><text x="548.05" y="315.7" font-size="10.3" class="tl">0</text>
<path transform="translate(561.07,315.7) scale(0.005029,-0.005029)" d="M843 0H663V1130Q598 1068 492 1006Q387 945 303 916V1086Q454 1156 567 1256Q680 1356 727 1450H843Z" fill="#1a1a1a" stroke="#1a1a1a" stroke-width="35.8"/><text x="566.8" y="315.7" font-size="10.3" class="tl">5</text>
<text x="579.82" y="315.7" font-size="10.3" class="tl">20</text>
<text x="598.57" y="315.7" font-size="10.3" class="tl">25</text>
<text x="617.32" y="315.7" font-size="10.3" class="tl">30</text>
<text x="636.07" y="315.7" font-size="10.3" class="tl">35</text>
<text x="654.82" y="315.7" font-size="10.3" class="tl">40</text>
<text x="673.57" y="315.7" font-size="10.3" class="tl">45</text>
<text x="510.97" y="300.4" font-size="10.3" class="tl">0</text>
<text x="510.97" y="271.65" font-size="10.3" class="tl">2</text>
<text x="510.97" y="242.9" font-size="10.3" class="tl">4</text>
<text x="510.97" y="214.15" font-size="10.3" class="tl">6</text>
<text x="510.97" y="185.4" font-size="10.3" class="tl">8</text>
<text x="599.9" y="330" font-size="8.8" text-anchor="middle"><tspan stroke="#1a1a1a" stroke-width="0.22">DBH</tspan> <tspan font-size="8.2">(cm)</tspan></text>
<text transform="translate(507.8,243) rotate(-90)" font-size="9.9" text-anchor="middle">Survival pressure</text>
<text x="495" y="179.4" font-size="14">F</text>
</svg></body></html>
